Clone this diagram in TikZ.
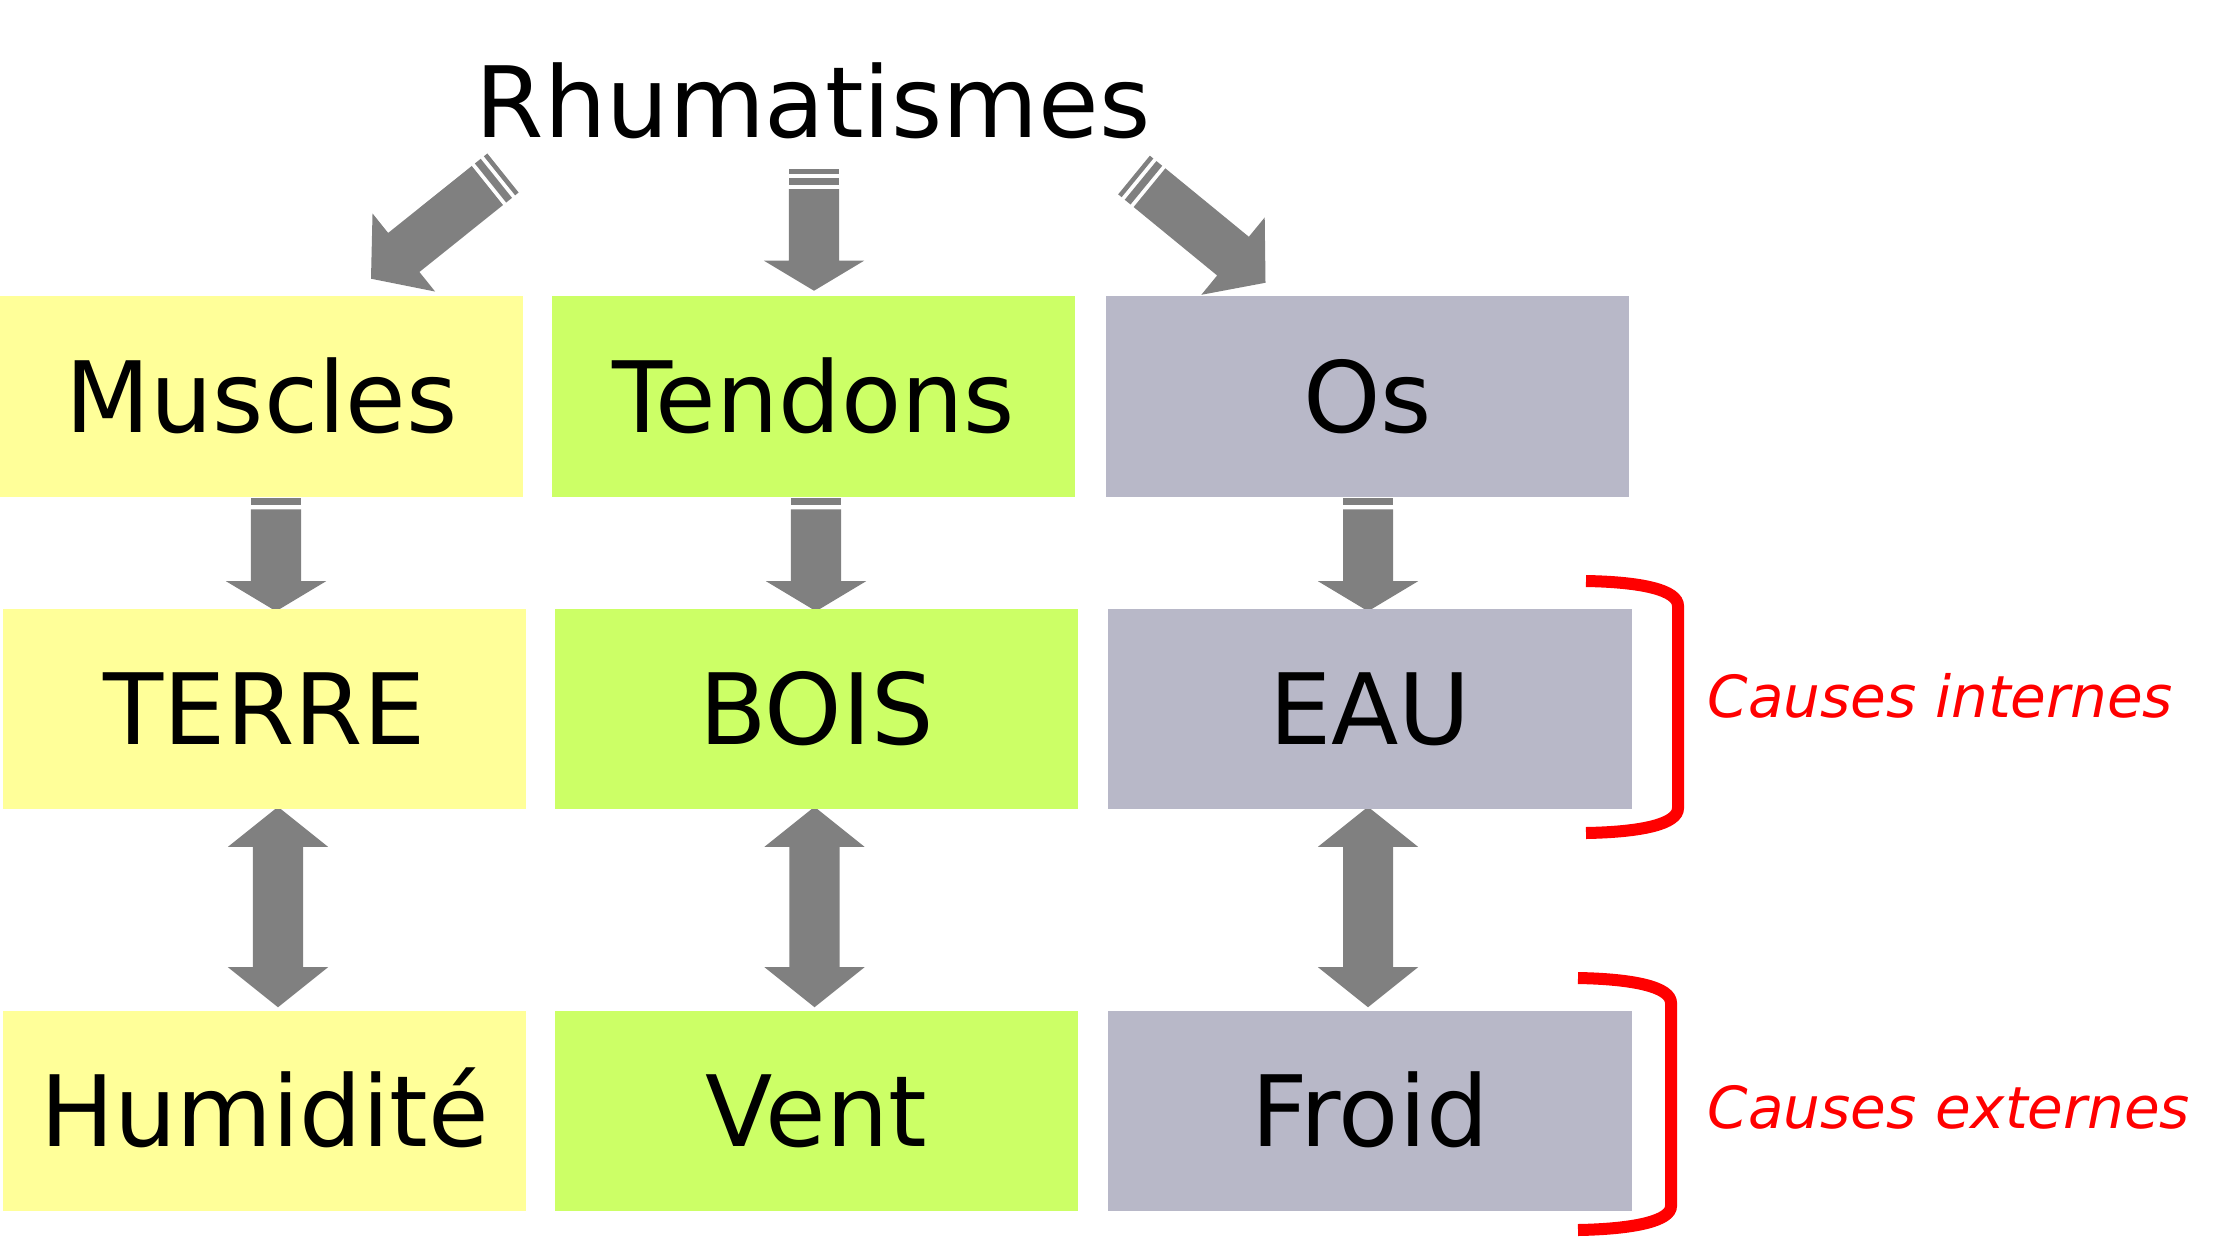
\documentclass[tikz,border=0pt]{standalone}
\usepackage{fontspec}
\setmainfont{DejaVu Sans}
\usetikzlibrary{calc,backgrounds}
\definecolor{mucyellow}{HTML}{FFFF99}
\definecolor{tengreen}{HTML}{CCFF66}
\definecolor{osgray}{HTML}{B8B8C8}
\definecolor{arrowgray}{HTML}{808080}
\tikzset{
  organ/.style={rectangle, inner sep=0pt, minimum width=5.23cm, minimum height=2cm,
    font=\fontsize{28}{30}\selectfont, text height=20.4pt, text depth=0pt},
  cause/.style={anchor=base west, inner sep=0pt, text=red,
    font=\fontsize{16.5}{20}\selectfont\itshape},
  bracket/.style={draw=red, line width=0.12cm}
}
% block arrow with two stripes at the tail: tail, tip, head length
\newcommand{\stripearrow}[3]{
  \coordinate (s0) at (#1);
  \coordinate (s1) at ($(#1)!0.045cm!(#2)$);
  \coordinate (s2) at ($(#1)!0.085cm!(#2)$);
  \coordinate (s3) at ($(#1)!0.16cm!(#2)$);
  \coordinate (s4) at ($(#1)!0.20cm!(#2)$);
  \coordinate (s5) at ($(#2)!#3!(#1)$);
  \foreach \p/\q in {s0/s1,s2/s3}
    \fill[arrowgray] ($(\p)!0.25cm!90:(#2)$) -- ($(\q)!0.25cm!90:(#2)$)
      -- ($(\q)!0.25cm!-90:(#2)$) -- ($(\p)!0.25cm!-90:(#2)$) -- cycle;
  \fill[arrowgray] ($(s4)!0.25cm!90:(#2)$) -- ($(s5)!0.25cm!90:(#2)$)
    -- ($(s5)!0.5cm!90:(#2)$) -- (#2) -- ($(s5)!0.5cm!-90:(#2)$)
    -- ($(s5)!0.25cm!-90:(#2)$) -- ($(s4)!0.25cm!-90:(#2)$) -- cycle;
}
% block arrow with a head at both ends
\newcommand{\dblarrow}[3]{
  \coordinate (da) at ($(#1)!#3!(#2)$);
  \coordinate (db) at ($(#2)!#3!(#1)$);
  \fill[arrowgray] (#1) -- ($(da)!0.5cm!90:(#2)$) -- ($(da)!0.25cm!90:(#2)$)
    -- ($(db)!0.25cm!-90:(#1)$) -- ($(db)!0.5cm!-90:(#1)$) -- (#2)
    -- ($(db)!0.5cm!90:(#1)$) -- ($(db)!0.25cm!90:(#1)$)
    -- ($(da)!0.25cm!-90:(#2)$) -- ($(da)!0.5cm!-90:(#2)$) -- cycle;
}

\begin{document}
\begin{tikzpicture}[x=0.01cm, y=0.01cm]
  \path[use as bounding box] (0,0) rectangle (2221,-1245);

  \node[anchor=base, inner sep=0pt, font=\fontsize{28}{30}\selectfont] (rhum) at (813,-137) {Rhumatismes};

  % organs
  \node[organ, fill=mucyellow] (muscles) at (261.5,-396.5) {Muscles};
  \node[organ, fill=tengreen] (tendons) at (813.5,-396.5) {Tendons};
  \node[organ, fill=osgray] (os) at (1367.5,-396.5) {Os};
  % elements
  \node[organ, fill=mucyellow] (terre) at (264.5,-709) {TERRE};
  \node[organ, fill=tengreen] (bois) at (816.5,-709) {BOIS};
  \node[organ, fill=osgray] (eau) at (1370,-709) {EAU};
  % climates
  \node[organ, fill=mucyellow] (humidite) at (264.5,-1111) {Humidité};
  \node[organ, fill=tengreen] (vent) at (816.5,-1111) {Vent};
  \node[organ, fill=osgray] (froid) at (1370,-1111) {Froid};

  \node[cause] (internes) at (1707,-717) {Causes internes};
  \node[cause] (externes) at (1707,-1128) {Causes externes};

  \draw[bracket] (1586,-581) .. controls (1642,-582) and (1678,-590) .. (1678,-606)
    -- (1678,-808) .. controls (1678,-824) and (1642,-832) .. (1586,-833);
  \draw[bracket] (1578,-978) .. controls (1634,-979) and (1671,-987) .. (1671,-1003)
    -- (1671,-1206) .. controls (1671,-1221) and (1634,-1229) .. (1578,-1230);

  \begin{scope}[on background layer]
    \stripearrow{$(rhum.base)+(-310,-36)$}{$(muscles.north)+(109.5,17)$}{0.42cm}
    \stripearrow{$(rhum.base)+(1,-32)$}{$(tendons.north)+(0.5,5)$}{0.30cm}
    \stripearrow{$(rhum.base)+(321,-38)$}{$(os.north)+(-102,13)$}{0.42cm}

    \stripearrow{$(muscles.south)+(14.5,8)$}{$(terre.north)+(11.5,-3)$}{0.30cm}
    \stripearrow{$(tendons.south)+(2.5,8)$}{$(bois.north)+(-0.5,-3)$}{0.30cm}
    \stripearrow{$(os.south)+(0.5,8)$}{$(eau.north)+(-2,-3)$}{0.30cm}

    \dblarrow{$(terre.south)+(13.5,3)$}{$(humidite.north)+(13.5,3)$}{0.40cm}
    \dblarrow{$(bois.south)+(-2,3)$}{$(vent.north)+(-2,3)$}{0.40cm}
    \dblarrow{$(eau.south)+(-2,3)$}{$(froid.north)+(-2,3)$}{0.40cm}
  \end{scope}
\end{tikzpicture}
\end{document}
